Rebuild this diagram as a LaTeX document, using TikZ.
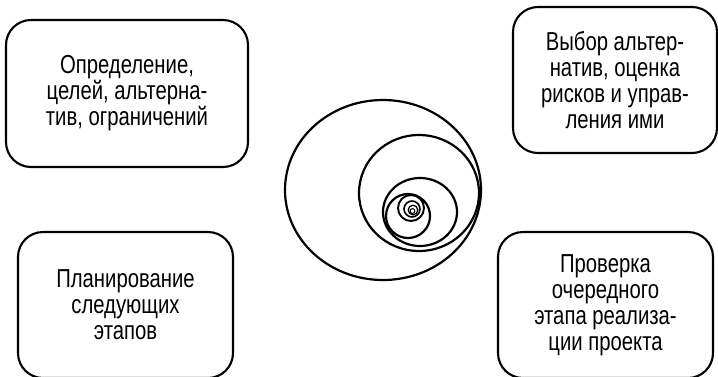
\documentclass[tikz,border=0pt]{standalone}
\usepackage{fontspec}
\setmainfont{Liberation Sans}[FakeStretch=0.78]
\begin{document}
\begin{tikzpicture}[x=1pt,y=-1pt,
  box/.style={draw=black,line width=2.1pt,rounded corners=25pt,align=center,
    inner sep=0pt,font=\fontsize{26}{26}\selectfont},
  ring/.style={draw=black,line width=2.2pt}]
\useasboundingbox (0,0) rectangle (718,376);
\fill[white] (0,0) rectangle (718,376);
% boxes
\node[box,minimum width=242pt,minimum height=147pt] (b1) at (127,93.5)
  {Определение,\\целей, альтерна-\\тив, ограничений};
\node[box,minimum width=204pt,minimum height=146pt] (b2) at (615,80)
  {Выбор альтер-\\натив, оценка\\рисков и управ-\\ления ими};
\node[box,minimum width=215pt,minimum height=146pt] (b3) at (125.5,305)
  {Планирование\\следующих\\этапов};
\node[box,minimum width=215pt,minimum height=146pt] (b4) at (605.5,305)
  {Проверка\\очередного\\этапа реализа-\\ции проекта};
% spiral of circles
\draw[ring] (383,190) ellipse [x radius=98, y radius=90];
\draw[ring] (419,193) ellipse [x radius=60, y radius=58];
\draw[ring] (420,212) ellipse [x radius=37, y radius=34];
\draw[ring] (408,216) circle [radius=22];
\draw[ring,line width=1.9pt] (411,208) circle [radius=13];
\draw[ring,line width=1.6pt] (412,209) circle [radius=8];
\draw[ring,line width=1.3pt] (413,210) circle [radius=4.8];
\draw[ring,line width=1.0pt] (412.5,211) circle [radius=2.4];
\end{tikzpicture}
\end{document}
